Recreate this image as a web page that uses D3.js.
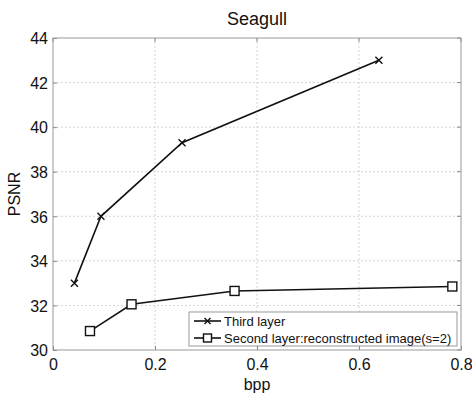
<!DOCTYPE html>
<html><head><meta charset="utf-8">
<script src="https://cdn.jsdelivr.net/npm/d3@7"></script>
<style>body{margin:0;background:#fff}svg{display:block}text{font-family:"Liberation Sans",Arial,sans-serif}</style>
</head><body><svg id="c" width="472" height="398"></svg>
<script>
const thirdX = [0.042, 0.094, 0.253, 0.639];
const thirdY = [33.0, 36.0, 39.3, 43.0];
const secondX = [0.0725, 0.154, 0.356, 0.783];
const secondY = [30.85, 32.05, 32.65, 32.85];
const xTicks = [0, 0.2, 0.4, 0.6, 0.8];
const yTicks = [30, 32, 34, 36, 38, 40, 42, 44];
const seriesNames = ["Third layer", "Second layer:reconstructed image(s=2)"];

const svg = d3.select("#c");
const L = 53, R = 461, T = 38, B = 350;
const x = d3.scaleLinear().domain([0, 0.8]).range([L, R]);
const y = d3.scaleLinear().domain([30, 44]).range([B, T]);

// grid
const g = svg.append("g");
g.selectAll(".gx").data(xTicks.slice(1, -1)).join("line")
  .attr("x1", d => x(d)).attr("x2", d => x(d)).attr("y1", T).attr("y2", B)
  .attr("stroke", "#c8c8c8").attr("stroke-dasharray", "2,2").attr("stroke-width", 0.8);
g.selectAll(".gy").data(yTicks.slice(1, -1)).join("line")
  .attr("y1", d => y(d)).attr("y2", d => y(d)).attr("x1", L).attr("x2", R)
  .attr("stroke", "#c8c8c8").attr("stroke-dasharray", "2,2").attr("stroke-width", 0.8);

// axes
const xa = svg.append("g").attr("transform", `translate(0,${B})`)
  .call(d3.axisBottom(x).tickValues(xTicks).tickSize(-4).tickPadding(6).tickFormat(d => d === 0 ? "0" : d3.format(".1f")(d)));
const ya = svg.append("g").attr("transform", `translate(${L},0)`)
  .call(d3.axisLeft(y).tickValues(yTicks).tickSize(-4).tickPadding(5));
[xa, ya].forEach(a => {
  a.select(".domain").remove();
  a.selectAll("line").attr("stroke", "#888");
  a.selectAll("text").attr("font-size", 16).attr("fill", "#111");
});
ya.selectAll("text").attr("dy", "0.36em");
xa.selectAll("text").attr("dy", "0.85em");
// top/right ticks
svg.append("g").selectAll("line").data(xTicks).join("line")
  .attr("x1", d => x(d)).attr("x2", d => x(d)).attr("y1", T).attr("y2", T + 4).attr("stroke", "#888");
svg.append("g").selectAll("line").data(yTicks).join("line")
  .attr("x1", R).attr("x2", R - 4).attr("y1", d => y(d)).attr("y2", d => y(d)).attr("stroke", "#888");

svg.append("rect").attr("x", L).attr("y", T).attr("width", R - L).attr("height", B - T)
  .attr("fill", "none").attr("stroke", "#999").attr("stroke-width", 1);

const line = d3.line().x(d => x(d[0])).y(d => y(d[1]));
const third = thirdX.map((v, i) => [v, thirdY[i]]);
const second = secondX.map((v, i) => [v, secondY[i]]);

svg.append("path").datum(third).attr("d", line).attr("fill", "none").attr("stroke", "#111").attr("stroke-width", 1.6);
svg.append("path").datum(second).attr("d", line).attr("fill", "none").attr("stroke", "#111").attr("stroke-width", 1.6);

function xMark(sel, cx, cy, s) {
  sel.append("path").attr("d", `M${cx - s},${cy - s}L${cx + s},${cy + s}M${cx - s},${cy + s}L${cx + s},${cy - s}`)
    .attr("stroke", "#111").attr("stroke-width", 1.4).attr("fill", "none");
}
function sqMark(sel, cx, cy, s) {
  sel.append("rect").attr("x", cx - s).attr("y", cy - s).attr("width", 2 * s).attr("height", 2 * s)
    .attr("fill", "#fff").attr("stroke", "#111").attr("stroke-width", 1.4);
}
third.forEach(d => xMark(svg, x(d[0]), y(d[1]), 3.5));
second.forEach(d => sqMark(svg, x(d[0]), y(d[1]), 4.5));

// labels
svg.append("text").attr("x", 257).attr("y", 25).attr("text-anchor", "middle").attr("font-size", 18).attr("fill", "#111").text("Seagull");
svg.append("text").attr("x", 257).attr("y", 390).attr("text-anchor", "middle").attr("font-size", 16).attr("fill", "#111").text("bpp");
svg.append("text").attr("transform", "translate(20,194) rotate(-90)").attr("text-anchor", "middle").attr("font-size", 16).attr("fill", "#111").text("PSNR");

// legend
const lg = svg.append("g");
lg.append("rect").attr("x", 189).attr("y", 312).attr("width", 268).attr("height", 34)
  .attr("fill", "#fff").attr("stroke", "#999").attr("stroke-width", 1);
const ly = [321, 338];
seriesNames.forEach((n, i) => {
  lg.append("line").attr("x1", 194).attr("x2", 221).attr("y1", ly[i]).attr("y2", ly[i]).attr("stroke", "#111").attr("stroke-width", 1.6);
  if (i === 0) xMark(lg, 207.5, ly[i], 3); else sqMark(lg, 207.5, ly[i], 4);
  lg.append("text").attr("x", 224).attr("y", ly[i]).attr("dy", "0.35em").attr("font-size", 13).attr("fill", "#111").text(n);
});
</script></body></html>
